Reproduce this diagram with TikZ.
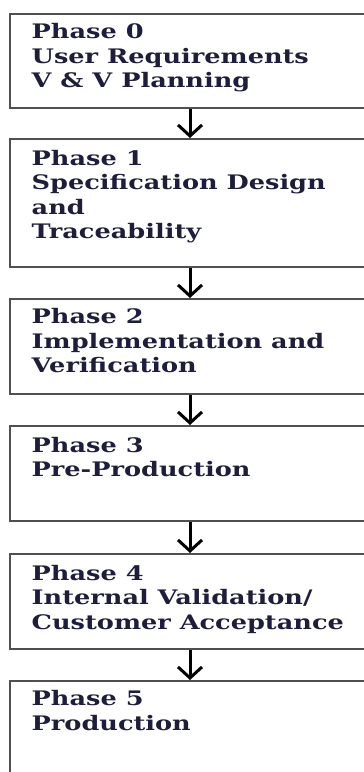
\documentclass[tikz,border=0pt]{standalone}
\usepackage{fontspec}
\setmainfont[FakeStretch=1.28]{DejaVu Serif}
\usetikzlibrary{arrows.meta,calc}
\definecolor{boxline}{RGB}{80,80,80}
\definecolor{phasetext}{RGB}{30,30,60}
% stacked lines whose reference point is the baseline of the first line
\newcommand{\phaselines}[1]{\begin{tabular}[t]{@{}l@{}}#1\end{tabular}}
\begin{document}
\begin{tikzpicture}[x=1pt,y=-1pt,
  phasebox/.style={draw=boxline,line width=2pt,minimum width=360pt,inner sep=0pt,anchor=north west},
  phaselabel/.style={anchor=base west,inner sep=0pt,
    font=\fontsize{20}{24.5}\selectfont\bfseries,text=phasetext},
  flow/.style={line width=3pt,-{Straight Barb[length=11pt,width=24pt]}}]
\useasboundingbox (0,0) rectangle (364,772);
\fill[white] (0,0) rectangle (364,772);

% phase boxes
\node[phasebox,minimum height=94pt]  (b0) at (9,13)  {};
\node[phasebox,minimum height=128pt] (b1) at (9,138) {};
\node[phasebox,minimum height=95pt]  (b2) at (9,298) {};
\node[phasebox,minimum height=95pt]  (b3) at (9,425) {};
\node[phasebox,minimum height=95pt]  (b4) at (9,553) {};
\node[phasebox,minimum height=95pt]  (b5) at (9,680) {};

% phase titles
\node[phaselabel] (t0) at ($(b0.north west)+(22.5,25.5)$) {\phaselines{Phase 0\\User Requirements\\V \& V Planning}};
\node[phaselabel] (t1) at ($(b1.north west)+(22.5,27)$) {\phaselines{Phase 1\\Specification Design\\and\\Traceability}};
\node[phaselabel] (t2) at ($(b2.north west)+(22.5,25.5)$) {\phaselines{Phase 2\\Implementation and\\Verification}};
\node[phaselabel] (t3) at ($(b3.north west)+(22.5,27)$) {\phaselines{Phase 3\\Pre-Production}};
\node[phaselabel] (t4) at ($(b4.north west)+(22.5,27)$) {\phaselines{Phase 4\\Internal Validation/\\Customer Acceptance}};
\node[phaselabel] (t5) at ($(b5.north west)+(22.5,25.5)$) {\phaselines{Phase 5\\Production}};

% flow between phases
\draw[flow] (b0.south) -- (b1.north);
\draw[flow] (b1.south) -- (b2.north);
\draw[flow] (b2.south) -- (b3.north);
\draw[flow] (b3.south) -- (b4.north);
\draw[flow] (b4.south) -- (b5.north);
\end{tikzpicture}
\end{document}
